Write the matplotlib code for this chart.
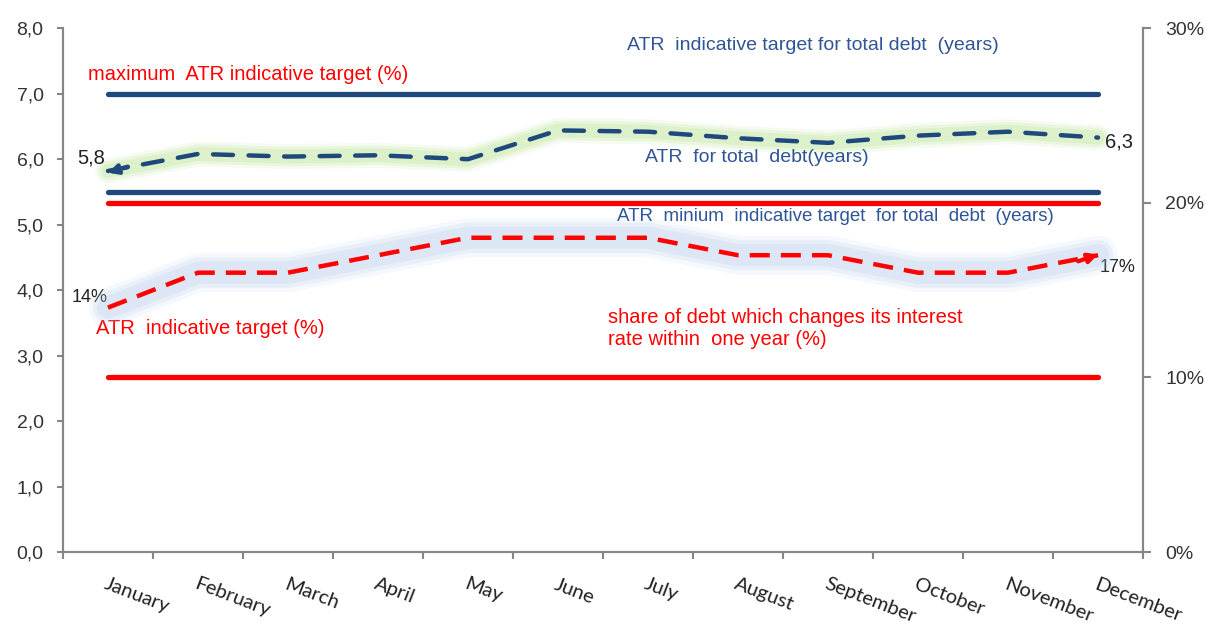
import numpy as np
import matplotlib
matplotlib.use("Agg")
import matplotlib.pyplot as plt
from matplotlib.ticker import FuncFormatter

# data
months = ["January", "February", "March", "April", "May", "June", "July",
          "August", "September", "October", "November", "December"]
atr_total = [5.82, 6.08, 6.04, 6.06, 6.00, 6.44, 6.42, 6.32, 6.25, 6.36, 6.42, 6.33]
share_1y = [0.14, 0.16, 0.16, 0.17, 0.18, 0.18, 0.18, 0.17, 0.17, 0.16, 0.16, 0.17]
atr_target_max = 7.0
atr_target_min = 5.5
share_target_max = 0.20
share_target_min = 0.10

navy = "#1f497d"
txt_blue = "#2f5597"
red = "#ff0000"
grey = "#868686"

plt.rcParams["font.family"] = ["Liberation Sans", "DejaVu Sans"]

fig = plt.figure(figsize=(12.06, 6.28), dpi=100)
ax = fig.add_axes([0.0522, 0.121, 0.8956, 0.834])
ax2 = ax.twinx()
x = np.arange(len(months))

# target lines
ax.hlines([atr_target_max, atr_target_min], x[0], x[-1], colors=navy, lw=3.8, capstyle="round")
ax2.hlines([share_target_max, share_target_min], x[0], x[-1], colors=red, lw=3.8, capstyle="round")

# ATR for total debt - green glow + navy dashes
for w, a in [(18, 0.15), (14, 0.22), (10, 0.3)]:
    ax.plot(x, atr_total, color="#bfe69c", lw=w, alpha=a, solid_capstyle="round", solid_joinstyle="round")
ax.plot(x, atr_total, color=navy, lw=3.2, dashes=(4.5, 3.5), dash_capstyle="round")
ax.annotate("", xy=(x[0] - 0.03, atr_total[0] - 0.04), xytext=(x[0] + 0.25, atr_total[0] + 0.08),
            arrowprops=dict(arrowstyle="-|>", color=navy, lw=3, mutation_scale=14))

# share of debt - blue glow + red dashes
for w, a in [(28, 0.10), (22, 0.14), (16, 0.18)]:
    ax2.plot(x, share_1y, color="#a3bfe2", lw=w, alpha=a, solid_capstyle="round", solid_joinstyle="round")
ax2.plot(x, share_1y, color=red, lw=3.2, dashes=(4.5, 2.5))
ax2.annotate("", xy=(x[-1] + 0.03, share_1y[-1] + 0.001), xytext=(x[-1] - 0.25, share_1y[-1] - 0.004),
             arrowprops=dict(arrowstyle="-|>", color=red, lw=3, mutation_scale=14))

# axes
ax.set_xlim(-0.5, 11.5)
ax.set_ylim(0, 8)
ax2.set_ylim(0, 0.30)
ax.set_yticks(np.arange(0, 9, 1))
ax.yaxis.set_major_formatter(FuncFormatter(lambda v, p: f"{v:.1f}".replace(".", ",")))
ax2.set_yticks([0, 0.1, 0.2, 0.3])
ax2.yaxis.set_major_formatter(FuncFormatter(lambda v, p: f"{v * 100:.0f}%"))

ax.set_xticks(np.arange(-0.5, 12, 1))
ax.set_xticklabels([])
ax.set_xticks(x, minor=True)
ax.set_xticklabels(months, minor=True, rotation=-21, ha="left", va="top", color="#222222",
                   rotation_mode="anchor", fontsize=14.5, family=["Lato", "DejaVu Sans"])
ax.tick_params(axis="x", which="minor", length=0, pad=17)
ax.tick_params(axis="x", which="major", length=5, color=grey, width=1.5)
ax.tick_params(axis="y", length=4, color=grey, width=1.5, labelsize=14, labelcolor="#333333", pad=10)
ax2.tick_params(axis="y", length=6, color=grey, width=1.5, labelsize=14, labelcolor="#333333", pad=10)

for a in (ax, ax2):
    a.spines["top"].set_visible(False)
    for s in ("left", "right", "bottom"):
        a.spines[s].set_color(grey)
        a.spines[s].set_linewidth(1.5)

# labels
ax.text(5.77, 7.74, "ATR  indicative target for total debt  (years)", color=txt_blue, fontsize=14, va="center")
ax.text(-0.22, 7.30, "maximum  ATR indicative target (%)", color=red, fontsize=14.5, va="center")
ax.text(-0.03, 6.02, f"{atr_total[0]:.1f}".replace(".", ","), color="#222222", fontsize=14.5, ha="right", va="center")
ax.text(5.97, 6.03, "ATR  for total  debt(years)", color=txt_blue, fontsize=14, va="center")
ax.text(11.08, 6.26, f"{atr_total[-1]:.1f}".replace(".", ","), color="#222222", fontsize=14.5, va="center")
ax.text(5.66, 5.13, "ATR  minium  indicative target  for total  debt  (years)", color=txt_blue, fontsize=13.5, va="center")
ax.text(-0.4, 3.88, f"{share_1y[0] * 100:.0f}%", color="#222222", fontsize=13, va="center")
ax.text(-0.13, 3.42, "ATR  indicative target (%)", color=red, fontsize=14.5, va="center")
ax.text(11.02, 4.35, f"{share_1y[-1] * 100:.0f}%", color="#222222", fontsize=13, va="center")
ax.text(5.56, 3.42, "share of debt which changes its interest\nrate within  one year (%)", color=red,
        fontsize=14.5, va="center", linespacing=1.2)

fig.savefig("out.png", dpi=100)
